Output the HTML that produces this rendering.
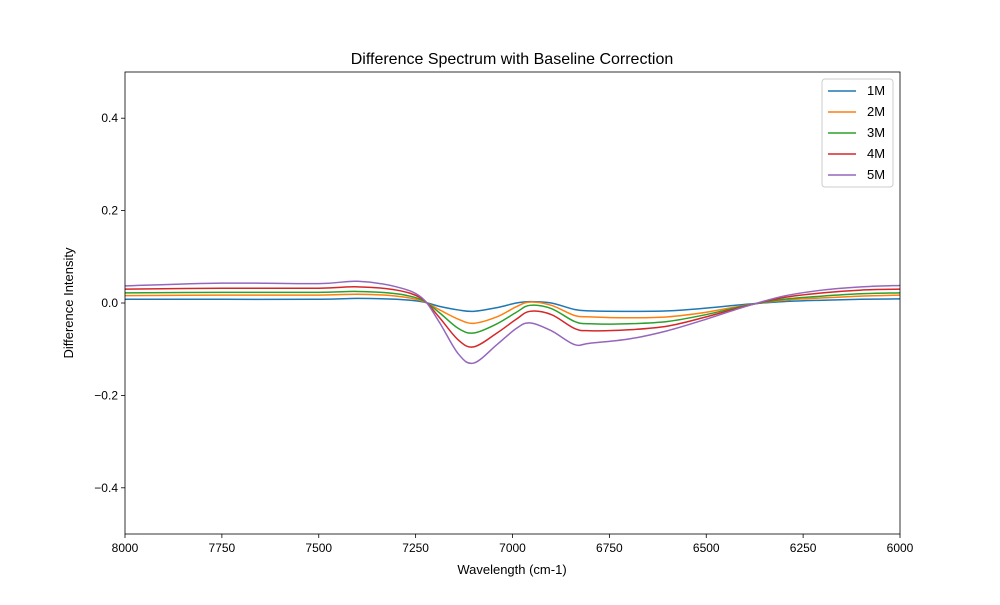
<!DOCTYPE html>
<html><head><meta charset="utf-8"><style>body{margin:0;background:#fff}svg{font-family:"Liberation Sans",sans-serif}</style></head>
<body>
<svg id="c" width="1000" height="600"></svg>
<script>
const wavelengths=[8000,7750,7500,7400,7300,7235,7190,7140,7100,7040,6990,6955,6900,6840,6800,6700,6600,6500,6400,6300,6200,6100,6000];
const s1M=[0.008,0.008,0.008,0.01,0.008,0.003,-0.007,-0.015,-0.018,-0.01,0.0,0.003,0.0,-0.014,-0.017,-0.018,-0.017,-0.011,-0.003,0.003,0.006,0.008,0.009];
const s2M=[0.016,0.017,0.017,0.019,0.015,0.005,-0.014,-0.035,-0.044,-0.03,-0.008,0.002,-0.005,-0.027,-0.03,-0.032,-0.03,-0.02,-0.005,0.006,0.011,0.015,0.017];
const s3M=[0.022,0.023,0.023,0.025,0.02,0.007,-0.02,-0.055,-0.065,-0.045,-0.02,-0.005,-0.012,-0.04,-0.045,-0.045,-0.04,-0.025,-0.006,0.008,0.015,0.02,0.022];
const s4M=[0.03,0.032,0.032,0.035,0.028,0.01,-0.03,-0.08,-0.095,-0.065,-0.035,-0.018,-0.025,-0.055,-0.06,-0.058,-0.05,-0.03,-0.007,0.012,0.022,0.028,0.03];
const s5M=[0.037,0.043,0.042,0.047,0.035,0.012,-0.04,-0.11,-0.13,-0.09,-0.055,-0.043,-0.06,-0.09,-0.087,-0.078,-0.06,-0.035,-0.008,0.015,0.028,0.035,0.038];
const seriesNames=["1M","2M","3M","4M","5M"];
const xTicks=[8000,7750,7500,7250,7000,6750,6500,6250,6000];
const yTicks=[-0.4,-0.2,0.0,0.2,0.4];
const series=[s1M,s2M,s3M,s4M,s5M];
const colors=["#1f77b4","#ff7f0e","#2ca02c","#d62728","#9467bd"];
const L=125,R=900,T=72,B=534;
const X=w=>L+(8000-w)/2000*(R-L);
const Y=v=>B-(v+0.5)/1*(B-T);
const svg=document.getElementById('c');const NS="http://www.w3.org/2000/svg";
function mk(t,a,p){const e=document.createElementNS(NS,t);for(const k in a)e.setAttribute(k,a[k]);(p||svg).appendChild(e);return e;}
series.forEach((s,i)=>{
  const pts=wavelengths.map((w,j)=>[X(w),Y(s[j])]);
  let d="M"+pts[0][0]+","+pts[0][1];
  for(let j=0;j<pts.length-1;j++){
    const p0=pts[Math.max(j-1,0)],p1=pts[j],p2=pts[j+1],p3=pts[Math.min(j+2,pts.length-1)];
    const c1=[p1[0]+(p2[0]-p0[0])/6,p1[1]+(p2[1]-p0[1])/6],c2=[p2[0]-(p3[0]-p1[0])/6,p2[1]-(p3[1]-p1[1])/6];
    d+=` C${c1[0]},${c1[1]} ${c2[0]},${c2[1]} ${p2[0]},${p2[1]}`;
  }
  const e=mk('path',{d:d,fill:'none',stroke:colors[i],'stroke-width':1.5});
  
  
});
const f=mk('rect',{x:L,y:T,width:R-L,height:B-T,fill:'none',stroke:'#000','stroke-width':0.8});

xTicks.forEach(t=>{const x=X(t);mk('line',{x1:x,x2:x,y1:B,y2:B+4,stroke:'#000','stroke-width':0.8});
 const e=mk('text',{x:x,y:B+18,'text-anchor':'middle','font-size':12});e.textContent=t;
 });
yTicks.forEach(t=>{const y=Y(t);mk('line',{x1:L-4,x2:L,y1:y,y2:y,stroke:'#000','stroke-width':0.8});
 const e=mk('text',{x:L-7,y:y+4,'text-anchor':'end','font-size':12});e.textContent=(t<0?"\u2212":"")+Math.abs(t).toFixed(1);
 });
let e=mk('text',{x:512,y:574,'text-anchor':'middle','font-size':13});e.textContent="Wavelength (cm-1)";

e=mk('text',{x:73,y:303,'text-anchor':'middle','font-size':13,transform:'rotate(-90 73 303)'});e.textContent="Difference Intensity";

e=mk('text',{x:512,y:64,'text-anchor':'middle','font-size':16});e.textContent="Difference Spectrum with Baseline Correction";

const lg=mk('g',{});
mk('rect',{x:822,y:79,width:71,height:108,rx:3,fill:'#fff',stroke:'#ccc'},lg);
seriesNames.forEach((n,i)=>{const y=91+i*21;
 mk('line',{x1:828,x2:856,y1:y,y2:y,stroke:colors[i],'stroke-width':1.5},lg);
 const t=mk('text',{x:867,y:y+4,'font-size':13},lg);t.textContent=n;
 });
</script>
</body></html>
